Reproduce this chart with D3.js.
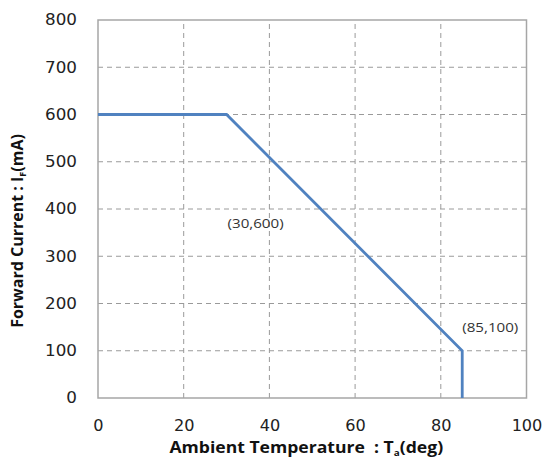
<!DOCTYPE html>
<html><head><meta charset="utf-8">
<script src="https://cdn.jsdelivr.net/npm/d3@7"></script>
<style>body{margin:0;background:#fff}svg{display:block}</style>
</head><body>
<svg id="c" width="545" height="466"></svg>
<script>
const tempX = [0, 30, 85, 85];
const currentY = [600, 600, 100, 0];
const xTicks = [0, 20, 40, 60, 80, 100];
const yTicks = [0, 100, 200, 300, 400, 500, 600, 700, 800];
const annotations = [
  {label: "(30,600)", x: 30, y: 600, dx: 1, dy: 113},
  {label: "(85,100)", x: 85, y: 100, dx: 0, dy: -19}
];

const svg = d3.select("#c");
const m = {l: 98, r: 18.5, t: 20, b: 68};
const W = 545, H = 466;
const x = d3.scaleLinear().domain([0, 100]).range([m.l, W - m.r]);
const y = d3.scaleLinear().domain([0, 800]).range([H - m.b, m.t]);

// gridlines
svg.append("g").selectAll("line").data(xTicks.slice(1, -1)).join("line")
  .attr("x1", d => x(d)).attr("x2", d => x(d)).attr("y1", y(0)).attr("y2", y(800))
  .attr("stroke", "#9a9a9a").attr("stroke-width", 1).attr("stroke-dasharray", "5,4");
svg.append("g").selectAll("line").data(yTicks.slice(1, -1)).join("line")
  .attr("y1", d => y(d)).attr("y2", d => y(d)).attr("x1", x(0)).attr("x2", x(100))
  .attr("stroke", "#9a9a9a").attr("stroke-width", 1).attr("stroke-dasharray", "5,4");

// border
svg.append("rect").attr("x", x(0)).attr("y", y(800)).attr("width", x(100) - x(0)).attr("height", y(0) - y(800))
  .attr("fill", "none").attr("stroke", "#a6a6a6").attr("stroke-width", 1.5);

// axes
const xa = svg.append("g").attr("transform", `translate(0,${y(0)})`)
  .call(d3.axisBottom(x).tickValues(xTicks).tickSize(0).tickPadding(22));
const ya = svg.append("g").attr("transform", `translate(${x(0)},0)`)
  .call(d3.axisLeft(y).tickValues(yTicks).tickSize(0).tickPadding(19.5));
[xa, ya].forEach(a => {
  a.select(".domain").remove();
  a.selectAll("text").attr("font-family", "DejaVu Sans, Verdana, sans-serif").attr("font-size", 15.5).attr("fill", "#222");
});
xa.selectAll("text").attr("transform", "scale(1.04,1)");
ya.selectAll("text").attr("transform", "scale(1.08,1)");

// line
const line = d3.line().x(d => x(d[0])).y(d => y(d[1]));
svg.append("path").datum(tempX.map((t, i) => [t, currentY[i]]))
  .attr("d", line).attr("fill", "none").attr("stroke", "#5082c0").attr("stroke-width", 2.8);

// annotations
svg.append("g").selectAll("text").data(annotations).join("text")
  .attr("transform", d => `translate(${x(d.x) + d.dx},${y(d.y) + d.dy}) scale(1.12,1)`)
  .attr("font-family", "Open Sans, sans-serif").attr("font-size", 13.5).attr("fill", "#333")
  .text(d => d.label);

// axis titles
const xt = svg.append("text").attr("transform", `translate(${(x(0) + x(100)) / 2 - 6},453) scale(1.1,1)`)
  .attr("text-anchor", "middle").attr("font-family", "Open Sans, sans-serif")
  .attr("font-weight", "bold").attr("font-size", 16).attr("fill", "#111");
xt.append("tspan").text("Ambient Temperature\u00a0\u00a0: T");
xt.append("tspan").attr("font-size", 9).attr("dy", 3).text("a");
xt.append("tspan").attr("dy", -3).text("(deg)");

const yt = svg.append("text").attr("transform", `translate(23,231) rotate(-90)`)
  .attr("text-anchor", "middle").attr("font-family", "Open Sans, sans-serif")
  .attr("font-weight", "bold").attr("font-size", 16).attr("fill", "#111");
yt.append("tspan").text("Forward Current : I");
yt.append("tspan").attr("font-size", 9).attr("dy", 3).text("F");
yt.append("tspan").attr("dy", -3).text("(mA)");
</script>
</body></html>
